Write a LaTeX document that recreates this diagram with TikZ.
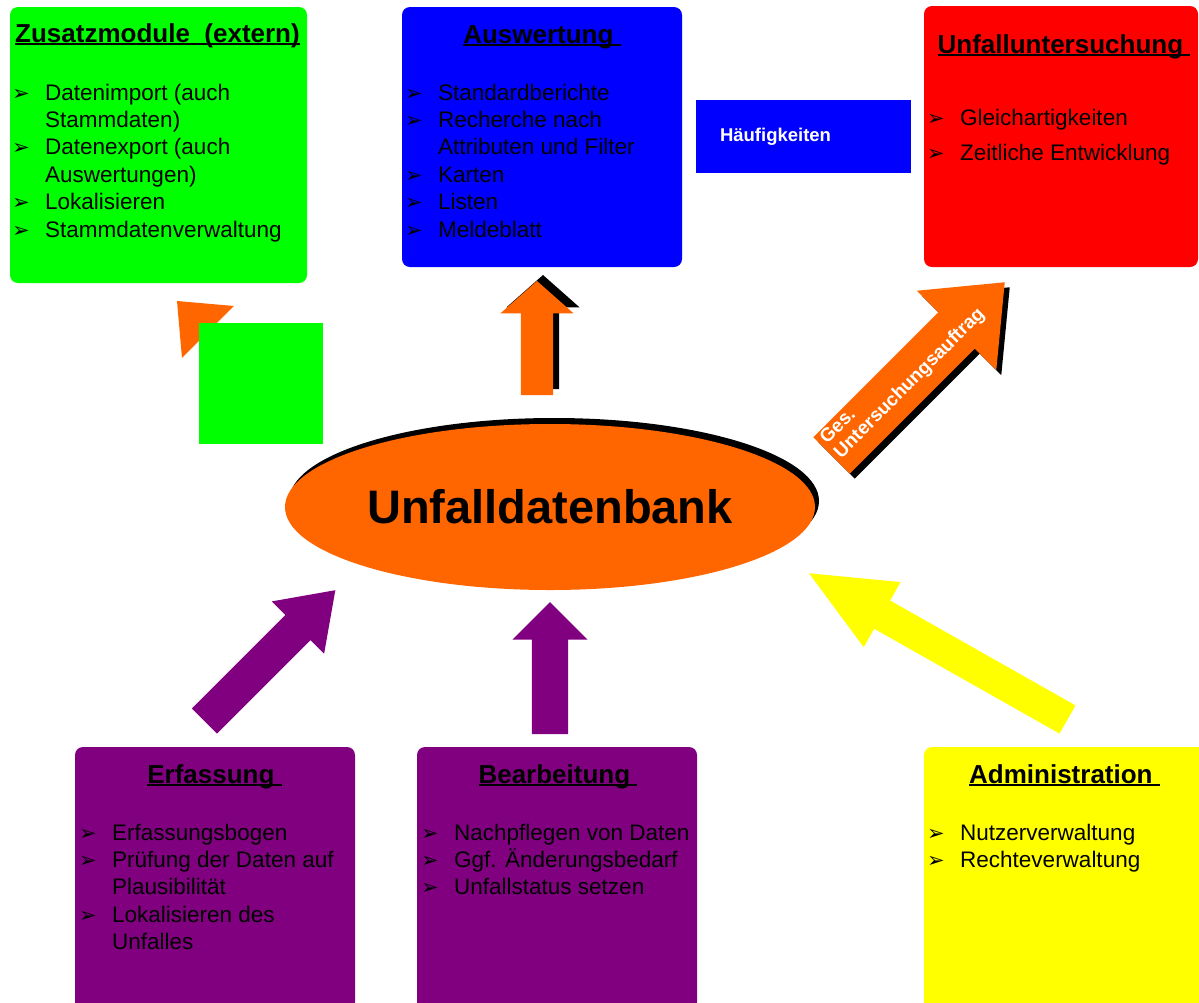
\documentclass[tikz,border=0pt]{standalone}
\usepackage{fontspec}
\setmainfont{Liberation Sans}
\newfontfamily\symbolschrift{DejaVu Sans}
\usetikzlibrary{shapes.geometric}
\usetikzlibrary{shapes.arrows}

\definecolor{gruen}{HTML}{00FF00}
\definecolor{blau}{HTML}{0000FF}
\definecolor{rot}{HTML}{FF0000}
\definecolor{orangerot}{HTML}{FF6600}
\definecolor{lila}{HTML}{800080}
\definecolor{gelb}{HTML}{FFFF00}

\newcommand{\spitze}{{\symbolschrift\fontsize{21}{21}\selectfont ➢}}
\newsavebox{\titelbox}
\newcommand{\titel}[1]{\sbox{\titelbox}{#1}\rlap{\rule[-3pt]{\wd\titelbox}{2pt}}\usebox{\titelbox}}

\tikzset{
    kasten/.style={rectangle, rounded corners=8pt, inner sep=0pt, outer sep=0pt},
    ueberschrift/.style={anchor=base, inner sep=0pt, font=\fontsize{26}{30}\selectfont\bfseries},
    liste/.style={anchor=base west, inner sep=0pt, font=\fontsize{22.5}{27.4}\selectfont},
    blockpfeil/.style={single arrow, inner xsep=0pt, outer sep=0pt, anchor=tail},
    pfeilmass/.style n args={4}{minimum height=#1, inner ysep=#2,
        single arrow head extend=#3, single arrow tip angle=#4},
}

\begin{document}
\begin{tikzpicture}[x=1pt, y=-1pt]
    \useasboundingbox (0, 0) rectangle (1199, 1002);
    \clip (0, 0) rectangle (1199, 1002);

    % Kaesten
    \node[kasten, fill=gruen, minimum width=297pt, minimum height=276pt] (Zusatz) at (158.5, 145) {};
    \node[kasten, fill=blau, minimum width=280pt, minimum height=260pt] (Auswertung) at (542, 137) {};
    \node[kasten, fill=rot, minimum width=274pt, minimum height=261pt] (Untersuchung) at (1061, 136.5) {};
    \node[kasten, fill=lila, minimum width=280pt, minimum height=263pt] (Erfassung) at (215, 878.5) {};
    \node[kasten, fill=lila, minimum width=280pt, minimum height=263pt] (Bearbeitung) at (557, 878.5) {};
    \node[kasten, fill=gelb, minimum width=283pt, minimum height=263pt] (Admin) at (1065.5, 878.5) {};

    \node[rectangle, fill=blau, minimum width=215pt, minimum height=73pt, inner xsep=24pt,
        text width=167pt, align=left, text=white, font=\fontsize{18.5}{20}\selectfont\bfseries]
        (Haeufig) at (803.5, 136.5) {Häufigkeiten};

    % Ueberschriften
    \node[ueberschrift] (tZusatz) at (157.5, 42) {\titel{Zusatzmodule\ \ (extern)}};
    \node[ueberschrift] (tAuswertung) at (542, 43) {\titel{Auswertung\ }};
    \node[ueberschrift] (tUntersuchung) at (1064, 53) {\titel{Unfalluntersuchung\ }};
    \node[ueberschrift] (tErfassung) at (214.5, 783) {\titel{Erfassung\ }};
    \node[ueberschrift] (tBearbeitung) at (558, 783) {\titel{Bearbeitung\ }};
    \node[ueberschrift] (tAdmin) at (1064.5, 783) {\titel{Administration\ }};

    % Listen
    \node[liste] (lZusatz) at (12, 100) {\begin{tabular}[t]{@{}p{33pt}@{}l@{}}
        \spitze & Datenimport (auch\\ & Stammdaten)\\
        \spitze & Datenexport (auch\\ & Auswertungen)\\
        \spitze & Lokalisieren\\
        \spitze & Stammdatenverwaltung
    \end{tabular}};
    \node[liste] (lAuswertung) at (405, 100) {\begin{tabular}[t]{@{}p{33pt}@{}l@{}}
        \spitze & Standardberichte\\
        \spitze & Recherche nach\\ & Attributen und Filter\\
        \spitze & Karten\\
        \spitze & Listen\\
        \spitze & Meldeblatt
    \end{tabular}};
    \node[liste, font=\fontsize{22.5}{35}\selectfont] (lUntersuchung) at (927, 125) {\begin{tabular}[t]{@{}p{33pt}@{}l@{}}
        \spitze & Gleichartigkeiten\\
        \spitze & Zeitliche Entwicklung
    \end{tabular}};
    \node[liste] (lErfassung) at (79, 840) {\begin{tabular}[t]{@{}p{33pt}@{}l@{}}
        \spitze & Erfassungsbogen\\
        \spitze & Prüfung der Daten auf\\ & Plausibilität\\
        \spitze & Lokalisieren des\\ & Unfalles
    \end{tabular}};
    \node[liste] (lBearbeitung) at (421, 840) {\begin{tabular}[t]{@{}p{33pt}@{}l@{}}
        \spitze & Nachpflegen von Daten\\
        \spitze & Ggf. Änderungsbedarf\\
        \spitze & Unfallstatus setzen
    \end{tabular}};
    \node[liste] (lAdmin) at (927, 840) {\begin{tabular}[t]{@{}p{33pt}@{}l@{}}
        \spitze & Nutzerverwaltung\\
        \spitze & Rechteverwaltung
    \end{tabular}};

    % Pfeile zur Datenbank und weg von ihr
    \node[blockpfeil, anchor=tip, fill=orangerot, rotate=135, pfeilmass={110pt}{12pt}{24.5pt}{80}] (pZusatz) at (177, 301) {};
    \node[rectangle, fill=gruen, minimum width=124pt, minimum height=121pt, inner sep=0pt] (Zusatzklein) at (261, 383.5) {};

    \node[blockpfeil, fill=black, rotate=90, pfeilmass={114pt}{16pt}{20.5pt}{97}] (pAuswertungS) at (543, 389) {};
    \node[blockpfeil, fill=orangerot, rotate=90, pfeilmass={114pt}{16pt}{20.5pt}{97}] (pAuswertung) at (537, 395) {};

    \node[blockpfeil, fill=black, rotate=45, pfeilmass={245pt}{25.5pt}{30.5pt}{79}] (pUntersuchungS) at (836.5, 460.5) {};
    \node[blockpfeil, fill=orangerot, rotate=45, pfeilmass={245pt}{25.5pt}{30.5pt}{79}] (pUntersuchung) at (831.5, 455.5) {};
    \node[rotate=45, anchor=base west, inner sep=0pt, text=white, font=\fontsize{19}{20}\selectfont\bfseries]
        (Auftrag) at (827, 445) {\begin{tabular}[t]{@{}l@{}}Ges.\\Untersuchungsauftrag\end{tabular}};

    \node[blockpfeil, fill=lila, rotate=45, pfeilmass={185pt}{17.5pt}{19.25pt}{70}] (pErfassung) at (204.5, 721) {};
    \node[blockpfeil, fill=lila, rotate=90, pfeilmass={132pt}{18pt}{19.5pt}{90}] (pBearbeitung) at (550, 734) {};
    \node[blockpfeil, fill=gelb, rotate=150.5, pfeilmass={297pt}{16pt}{21.2pt}{48}] (pAdmin) at (1067.5, 719.5) {};

    % Datenbank
    \node[ellipse, fill=black, minimum width=530pt, minimum height=166pt, inner sep=0pt] (DatenbankS) at (554, 501) {};
    \node[ellipse, fill=orangerot, minimum width=530pt, minimum height=166pt, inner sep=0pt,
        font=\fontsize{47}{50}\selectfont\bfseries] (Datenbank) at (550, 507) {Unfalldatenbank};
\end{tikzpicture}
\end{document}
